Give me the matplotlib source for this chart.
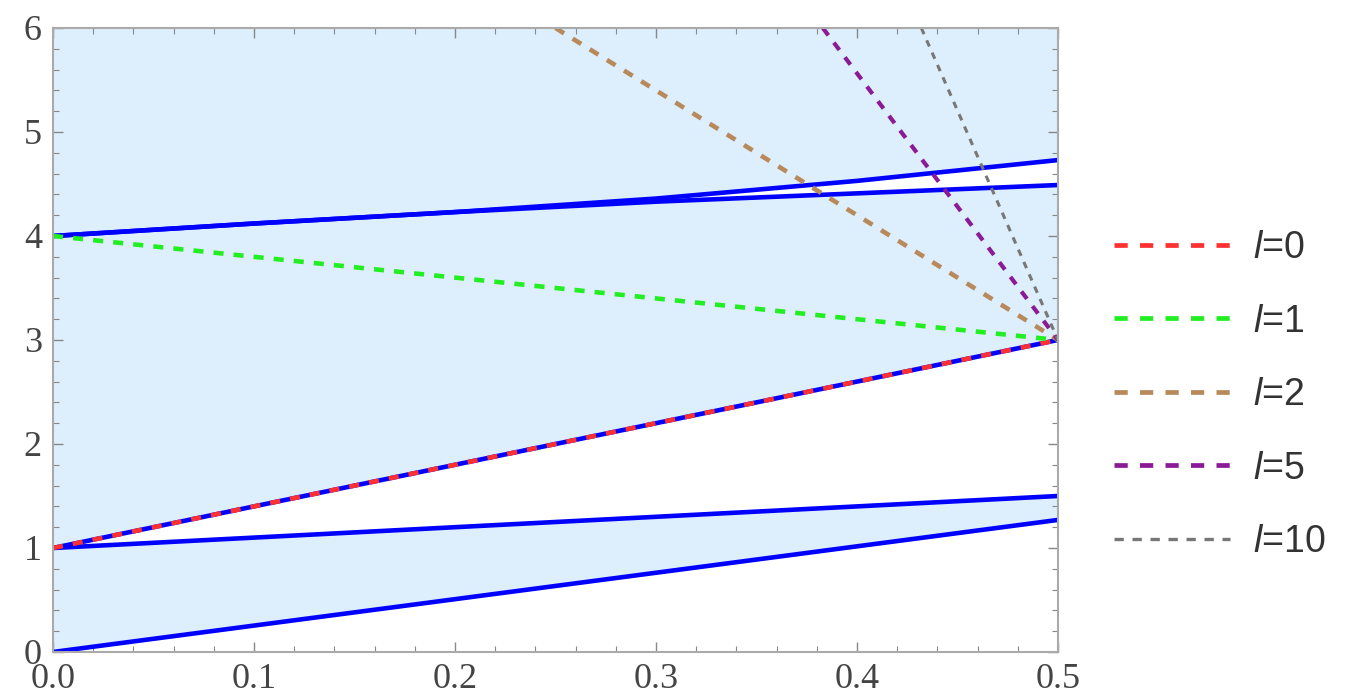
import numpy as np
import matplotlib.pyplot as plt
from matplotlib.lines import Line2D
from matplotlib.ticker import MultipleLocator

# boundary curves (blue)
x = [0.0, 0.1, 0.2, 0.3, 0.4, 0.5]
b_low = [0.0, 0.254, 0.508, 0.762, 1.016, 1.27]
b_mid = [1.0, 1.1, 1.2, 1.3, 1.4, 1.5]
b_diag = [1.0, 1.4, 1.8, 2.2, 2.6, 3.0]
b_top1 = [4.0, 4.12, 4.23, 4.33, 4.41, 4.49]
b_top2 = [4.0, 4.12, 4.23, 4.36, 4.53, 4.73]

# dashed lines for each l
labels = ['l=0', 'l=1', 'l=2', 'l=5', 'l=10']
dash_x = [[0.0, 0.5], [0.0, 0.5], [0.25, 0.5], [0.383, 0.5], [0.432, 0.5]]
dash_y = [[1.0, 3.0], [4.0, 3.0], [6.0, 3.0], [6.0, 3.0], [6.0, 3.0]]
colors = ['#ff3030', '#22ee22', '#b8895a', '#8b1a96', '#777777']
widths = [3.3, 3.3, 3.3, 3.0, 2.2]

fig = plt.figure(figsize=(13.62, 6.97), dpi=100)
ax = fig.add_axes([53/1362, 45/697, 1005/1362, 624/697])

fill_c = '#ddeefc'
ax.fill_between(x, b_low, b_mid, color=fill_c, lw=0)
ax.fill_between(x, b_diag, b_top1, color=fill_c, lw=0)
ax.fill_between(x, b_top2, [6]*len(x), color=fill_c, lw=0)

for yy in [b_low, b_mid, b_diag, b_top1, b_top2]:
    ax.plot(x, yy, color='#0000ff', lw=3.3, solid_capstyle='butt')

for xs, ys, c, w in zip(dash_x, dash_y, colors, widths):
    ax.plot(xs, ys, color=c, lw=w, linestyle=(0, (2.2, 2.2)))

ax.set_xlim(0, 0.5)
ax.set_ylim(0, 6)
ax.xaxis.set_major_locator(MultipleLocator(0.1))
ax.xaxis.set_minor_locator(MultipleLocator(0.02))
ax.yaxis.set_major_locator(MultipleLocator(1))
ax.yaxis.set_minor_locator(MultipleLocator(0.2))
ax.set_xticks(np.arange(0, 0.51, 0.1))
ax.set_xticklabels(['0.0', '0.1', '0.2', '0.3', '0.4', '0.5'])
ax.tick_params(which='both', direction='in', top=True, right=True, color='#888888',
               labelcolor='#444444', labelsize=26, labelfontfamily='Liberation Serif')
ax.tick_params(which='major', length=7, width=1)
ax.tick_params(which='minor', length=4, width=0.8)
ax.tick_params(axis='x', pad=8)
ax.tick_params(axis='y', pad=8)
for s in ax.spines.values():
    s.set_color('#aaaaaa')
    s.set_linewidth(1.5)

handles = [Line2D([], [], color=c, lw=3.4 if i < 4 else 2.4, linestyle=(0, (2.8, 2.6)))
           for i, c in enumerate(colors)]
leg_labels = ['$\\mathit{l}$=' + l.split('=')[1] for l in labels]
plt.rcParams['mathtext.fontset'] = 'custom'
plt.rcParams['mathtext.it'] = 'Liberation Sans:italic'
fig.legend(handles, leg_labels, loc='upper left', bbox_to_anchor=(1114/1362, 0.670),
           frameon=False, handlelength=3.1, handletextpad=0.6,
           labelspacing=1.0, borderpad=0, borderaxespad=0, labelcolor='#333333',
           prop={'family': 'Liberation Sans', 'size': 27})

fig.savefig('out.png', dpi=100)
